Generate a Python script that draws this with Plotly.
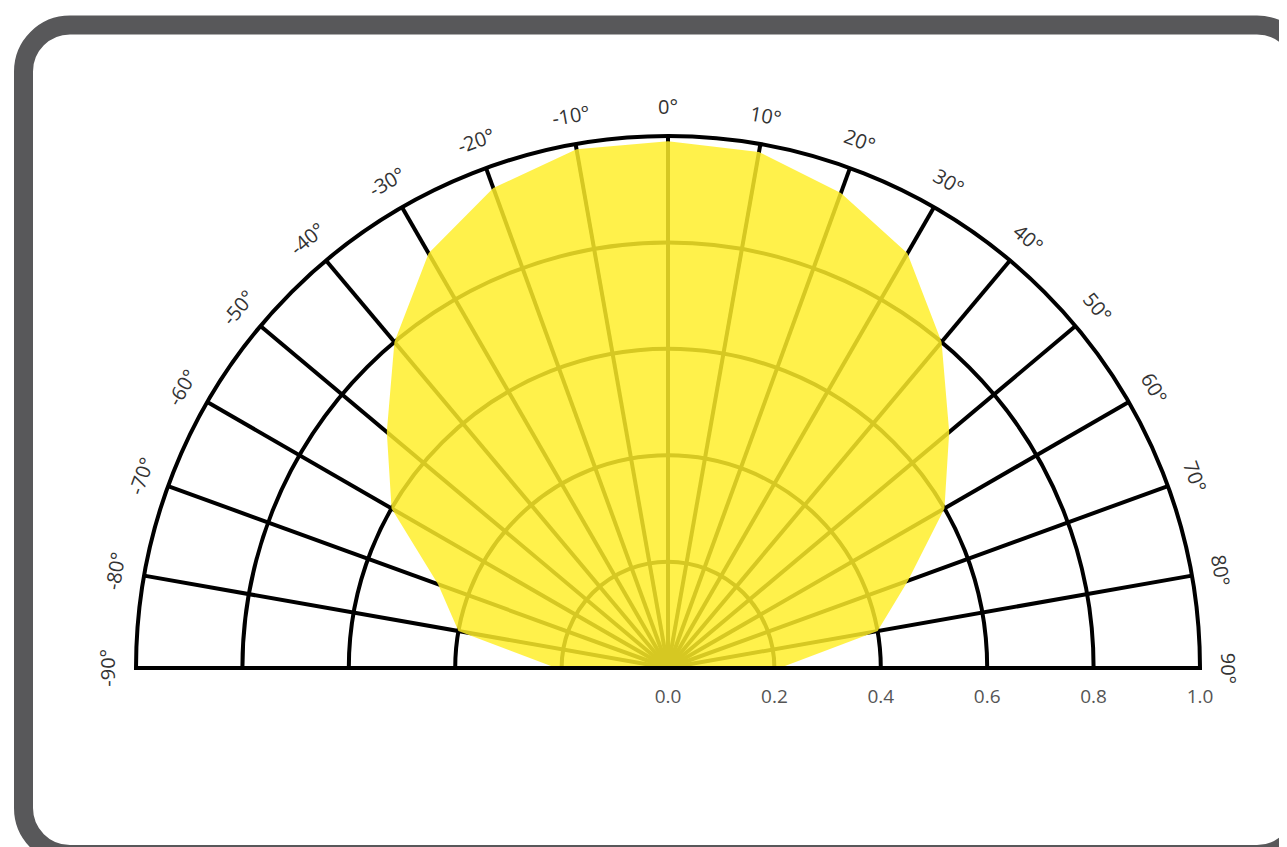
import math
import plotly.graph_objects as go

# ---- data ----
angles_deg = [-90, -80, -70, -60, -50, -40, -30, -20, -10, 0, 10, 20, 30, 40, 50, 60, 70, 80, 90]
intensity = [0.21, 0.40, 0.46, 0.60, 0.69, 0.80, 0.90, 0.96, 0.99, 0.99, 0.985, 0.95, 0.90, 0.80, 0.69, 0.60, 0.48, 0.40, 0.21]
angle_ticks = list(range(-90, 91, 10))
angle_labels = [f"{a}°" for a in angle_ticks]
radial_ticks = [0.0, 0.2, 0.4, 0.6, 0.8, 1.0]
radial_labels = ["0.0", "0.2", "0.4", "0.6", "0.8", "1.0"]

OFF = 8  # default page body margin
W, H = 1279, 839
CX, CY, R = 668 - OFF, 668 - OFF, 532  # polar centre and radius in pixels (figure coords)

fig = go.Figure()
fig.add_trace(go.Scatterpolar(
    theta=angles_deg, r=intensity, mode="lines", fill="toself",
    fillcolor="rgba(255,238,40,0.84)", line=dict(width=0, color="rgba(0,0,0,0)"),
    hoverinfo="skip", showlegend=False,
))

fig.update_layout(
    width=W, height=H, autosize=False,
    margin=dict(l=0, r=0, t=0, b=0),
    paper_bgcolor="white",
    showlegend=False,
    polar=dict(
        domain=dict(x=[(CX - R) / W, (CX + R) / W], y=[(H - CY) / H, (H - CY + R) / H]),
        sector=[0, 180],
        bgcolor="white",
        angularaxis=dict(
            rotation=90, direction="clockwise",
            tickmode="array", tickvals=angle_ticks,
            showticklabels=False, ticks="",
            showgrid=True, gridcolor="black", gridwidth=3.8,
            showline=True, linecolor="black", linewidth=4,
        ),
        radialaxis=dict(
            range=[0, 1], tickmode="array", tickvals=radial_ticks, ticktext=radial_labels,
            showgrid=True, gridcolor="black", gridwidth=3.8,
            showline=False, ticks="outside", ticklen=12, tickcolor="rgba(0,0,0,0)",
            angle=0, side="clockwise",
            tickfont=dict(family="Open Sans, sans-serif", size=19, color="#555"),
        ),
    ),
)

# rotated angular labels
anns = []
for a, lab in zip(angle_ticks, angle_labels):
    rr = 1.055
    t = math.radians(a)
    px = CX + R * rr * math.sin(t)
    py = CY - R * rr * math.cos(t)
    anns.append(dict(
        x=px / W, y=1 - py / H, xref="paper", yref="paper",
        text=lab, showarrow=False, textangle=a,
        xanchor="center", yanchor="middle",
        font=dict(family="Open Sans, sans-serif", size=20, color="#333"),
    ))
fig.update_layout(annotations=anns)

# rounded frame
x0, y0, x1, y1, rad = 23.5 - OFF, 25 - OFF, 1303.5 - OFF, 854.5 - OFF, 46.5
k = 0.5523 * rad


def P(x, y):
    return f"{x / W:.6f},{1 - y / H:.6f}"


path = (
    f"M {P(x0 + rad, y0)} L {P(x1 - rad, y0)} "
    f"C {P(x1 - rad + k, y0)} {P(x1, y0 + rad - k)} {P(x1, y0 + rad)} "
    f"L {P(x1, y1 - rad)} "
    f"C {P(x1, y1 - rad + k)} {P(x1 - rad + k, y1)} {P(x1 - rad, y1)} "
    f"L {P(x0 + rad, y1)} "
    f"C {P(x0 + rad - k, y1)} {P(x0, y1 - rad + k)} {P(x0, y1 - rad)} "
    f"L {P(x0, y0 + rad)} "
    f"C {P(x0, y0 + rad - k)} {P(x0 + rad - k, y0)} {P(x0 + rad, y0)} Z"
)
fig.add_shape(type="path", path=path, xref="paper", yref="paper",
              line=dict(color="#58585a", width=19), layer="above")

fig.write_html("out.html")
